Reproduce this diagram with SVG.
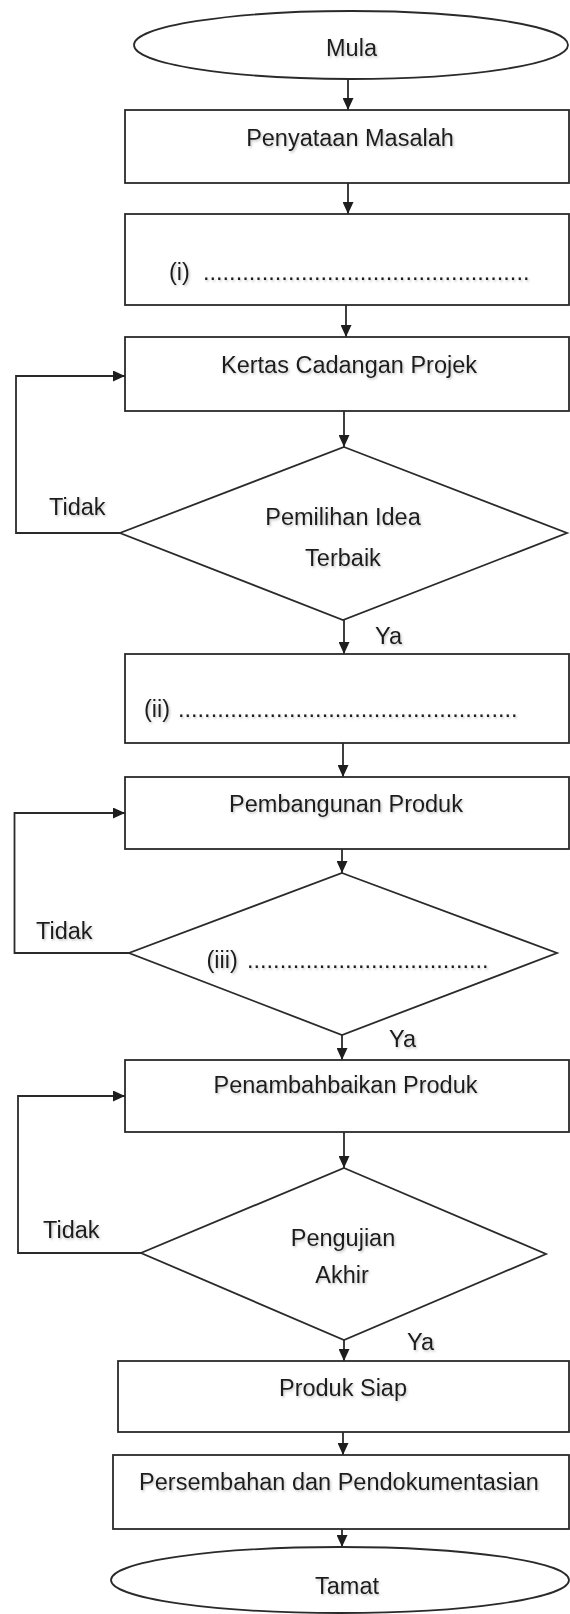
<svg xmlns="http://www.w3.org/2000/svg" width="570" height="1614" viewBox="0 0 570 1614">
<style>
.s{fill:#fff;stroke:#2a2a2a;stroke-width:1.8}
.c{fill:none;stroke:#2a2a2a;stroke-width:1.8}
.t{font-family:"Liberation Sans",Arial,sans-serif;font-size:23.5px;fill:#1a1a1a;filter:url(#sh)}
.m{text-anchor:middle}
</style>
<defs>
<filter id="sh" x="-10%" y="-30%" width="120%" height="160%">
<feDropShadow dx="1.2" dy="1.5" stdDeviation="1" flood-color="#777" flood-opacity="0.45"/>
</filter>
<marker id="ah" viewBox="0 0 12 11" refX="12" refY="5.5" markerWidth="12" markerHeight="11" markerUnits="userSpaceOnUse" orient="auto">
<path d="M0,0 L12,5.5 L0,11 z" fill="#1e1e1e"/>
</marker>
</defs>
<rect width="570" height="1614" fill="#fff"/>
<g id="connectors">
<path class="c" marker-end="url(#ah)" d="M348,79 V110"/>
<path class="c" marker-end="url(#ah)" d="M348,183 V214"/>
<path class="c" marker-end="url(#ah)" d="M346,305 V337"/>
<path class="c" marker-end="url(#ah)" d="M344,411 V447"/>
<path class="c" marker-end="url(#ah)" d="M344,620 V654"/>
<path class="c" marker-end="url(#ah)" d="M343,743 V777"/>
<path class="c" marker-end="url(#ah)" d="M342,849 V873"/>
<path class="c" marker-end="url(#ah)" d="M342,1035 V1060"/>
<path class="c" marker-end="url(#ah)" d="M344,1132 V1168"/>
<path class="c" marker-end="url(#ah)" d="M344,1340 V1361"/>
<path class="c" marker-end="url(#ah)" d="M343,1432 V1455"/>
<path class="c" marker-end="url(#ah)" d="M342,1529 V1547"/>
<path class="c" marker-end="url(#ah)" d="M120,533 H16 V376 H125"/>
<path class="c" marker-end="url(#ah)" d="M129,953 H14.5 V813 H125"/>
<path class="c" marker-end="url(#ah)" d="M141,1253 H18 V1096 H125"/>
<text class="t" x="49" y="515">Tidak</text>
<text class="t" x="375" y="644">Ya</text>
<text class="t" x="36" y="939">Tidak</text>
<text class="t" x="389" y="1047">Ya</text>
<text class="t" x="43" y="1238">Tidak</text>
<text class="t" x="407" y="1350">Ya</text>
</g>
<g id="mula">
<ellipse class="s" cx="351" cy="45" rx="217" ry="34"/>
<text class="t m" x="351.5" y="56">Mula</text>
</g>
<g id="penyataan">
<rect class="s" x="125" y="110" width="444" height="73"/>
<text class="t m" x="350" y="146">Penyataan Masalah</text>
</g>
<g id="langkah-i">
<rect class="s" x="125" y="214" width="444" height="91"/>
<text class="t" y="280"><tspan x="169">(i) </tspan><tspan x="203">..................................................</tspan></text>
</g>
<g id="kertas">
<rect class="s" x="125" y="337" width="444" height="74"/>
<text class="t m" x="349" y="373">Kertas Cadangan Projek</text>
</g>
<g id="pemilihan">
<polygon class="s" points="344,447 567,533 343,620 120,533"/>
<text class="t m" x="343" y="525">Pemilihan Idea</text>
<text class="t m" x="343" y="566">Terbaik</text>
</g>
<g id="langkah-ii">
<rect class="s" x="125" y="654" width="444" height="89"/>
<text class="t" y="717"><tspan x="144">(ii) </tspan><tspan x="178">....................................................</tspan></text>
</g>
<g id="pembangunan">
<rect class="s" x="125" y="777" width="444" height="72"/>
<text class="t m" x="346" y="812">Pembangunan Produk</text>
</g>
<g id="langkah-iii">
<polygon class="s" points="342,873 557,953 342,1035 129,953"/>
<text class="t" y="968"><tspan x="206.5">(iii) </tspan><tspan x="247">.....................................</tspan></text>
</g>
<g id="penambahbaikan">
<rect class="s" x="125" y="1060" width="444" height="72"/>
<text class="t m" x="345.5" y="1093">Penambahbaikan Produk</text>
</g>
<g id="pengujian">
<polygon class="s" points="344,1168 546,1254 344,1340 141,1253"/>
<text class="t m" x="343" y="1246">Pengujian</text>
<text class="t m" x="342" y="1283">Akhir</text>
</g>
<g id="produk-siap">
<rect class="s" x="118" y="1361" width="451" height="71"/>
<text class="t m" x="343" y="1396">Produk Siap</text>
</g>
<g id="persembahan">
<rect class="s" x="113" y="1455" width="456" height="74"/>
<text class="t m" x="339" y="1490">Persembahan dan Pendokumentasian</text>
</g>
<g id="tamat">
<ellipse class="s" cx="340" cy="1580" rx="229" ry="33"/>
<text class="t m" x="347" y="1594">Tamat</text>
</g>
</svg>
